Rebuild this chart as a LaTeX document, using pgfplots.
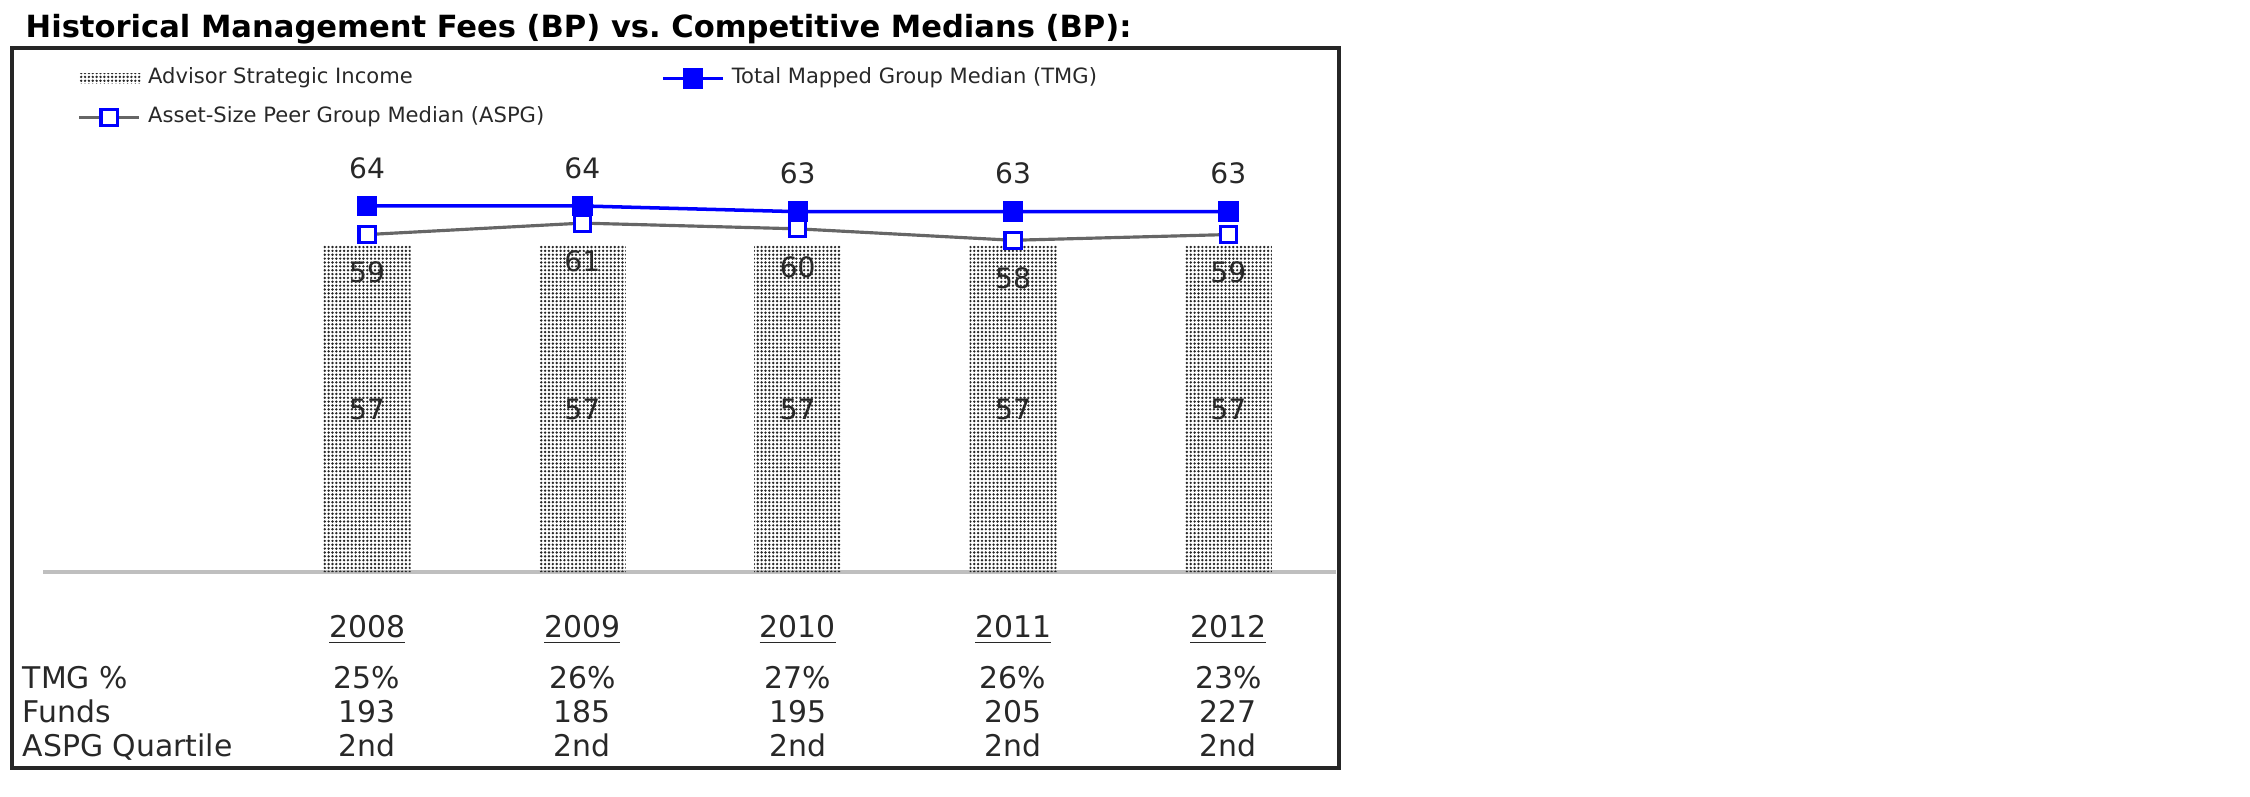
\documentclass[border=0pt]{standalone}
\usepackage{fontspec}
\setmainfont{DejaVu Sans}
\usepackage{pgfplots}
\pgfplotsset{compat=1.18}
\usetikzlibrary{patterns}
\pgfdeclarepatternformonly{finedots}{\pgfqpoint{-0.5pt}{-0.5pt}}{\pgfqpoint{0.5pt}{0.5pt}}{\pgfqpoint{1.1pt}{1.1pt}}{\pgfpathcircle{\pgfqpoint{0pt}{0pt}}{0.38pt}\pgfusepath{fill}}
\definecolor{tmgblue}{RGB}{0,0,255}
\definecolor{txt}{RGB}{40,40,40}
\frenchspacing
\begin{document}
\begin{tikzpicture}
\path[use as bounding box] (0,0) rectangle (22.5,7.96);
\draw[line width=1.1pt, black!85] (0.12,0.28) rectangle (13.39,7.48);
\node[anchor=base west, font=\fontsize{8.7}{10}\selectfont\bfseries, inner sep=0pt, text=black] at (0.25,7.58) {Historical Management Fees (BP) vs. Competitive Medians (BP):};
\begin{axis}[
  at={(0.43cm,2.24cm)}, anchor=south west,
  scale only axis, width=12.93cm, height=4.004cm,
  xmin=-1.505, xmax=4.5, ymin=0, ymax=70,
  axis y line=none, axis x line*=bottom,
  x axis line style={draw=black!25, line width=1pt},
  xtick={0,1,2,3,4}, major tick length=0pt, ytick=\empty,
  xticklabels={{\underline{2008}\\[5.1pt]25\%\\193\\2nd},
               {\underline{2009}\\[5.1pt]26\%\\185\\2nd},
               {\underline{2010}\\[5.1pt]27\%\\195\\2nd},
               {\underline{2011}\\[5.1pt]26\%\\205\\2nd},
               {\underline{2012}\\[5.1pt]23\%\\227\\2nd}},
  xticklabel style={align=center, font=\fontsize{8.5}{9.6}\selectfont, text=txt, inner sep=0pt, anchor=north, yshift=-12pt},
  extra x ticks={-1.5},
  extra x tick labels={{\phantom{2008}\\[5.1pt]TMG \%\\Funds\\ASPG Quartile}},
  extra x tick style={xticklabel style={align=left, anchor=north west, xshift=-0.22cm}},
  /pgf/number format/assume math mode=true,
  clip=false,
  legend columns=2,
  legend cell align=left,
  legend style={draw=none, fill=none, at={(axis description cs:0.018,1.296)}, anchor=north west,
    font=\fontsize{6}{7}\selectfont, text=txt, row sep=1pt,
    /tikz/every even column/.append style={column sep=1.1cm}},
]
\addplot[ybar, bar width=0.87cm, bar shift=0pt, draw=none, pattern=finedots, pattern color=black!85,
  legend image code/.code={\fill[pattern=finedots, pattern color=black!85] (0cm,-0.05cm) rectangle (0.62cm,0.05cm);},
  nodes near coords, nodes near coords align={center},
  visualization depends on={y \as \rawy},
  every node near coord/.append style={anchor=center, text=txt, font=\fontsize{8}{9}\selectfont, shift={(axis direction cs:0,-\rawy/2)}}]
  coordinates {(0,57) (1,57) (2,57) (3,57) (4,57)};
\addlegendentry{Advisor Strategic Income}
\addplot[tmgblue, line width=1pt, mark=square*, mark size=2.4pt, mark options={solid, fill=tmgblue, draw=tmgblue},
  nodes near coords, nodes near coords align={center},
  every node near coord/.append style={anchor=center, yshift=0.38cm, text=txt, font=\fontsize{8}{9}\selectfont}]
  coordinates {(0,64) (1,64) (2,63) (3,63) (4,63)};
\addlegendentry{Total Mapped Group Median (TMG)}
\addplot[black!60, line width=0.9pt, mark=square*, mark size=2.3pt, mark options={solid, fill=white, draw=tmgblue, line width=0.9pt},
  nodes near coords, nodes near coords align={center},
  every node near coord/.append style={anchor=center, yshift=-0.38cm, text=txt, font=\fontsize{8}{9}\selectfont}]
  coordinates {(0,59) (1,61) (2,60) (3,58) (4,59)};
\addlegendentry{Asset-Size Peer Group Median (ASPG)}
\end{axis}
\end{tikzpicture}
\end{document}
